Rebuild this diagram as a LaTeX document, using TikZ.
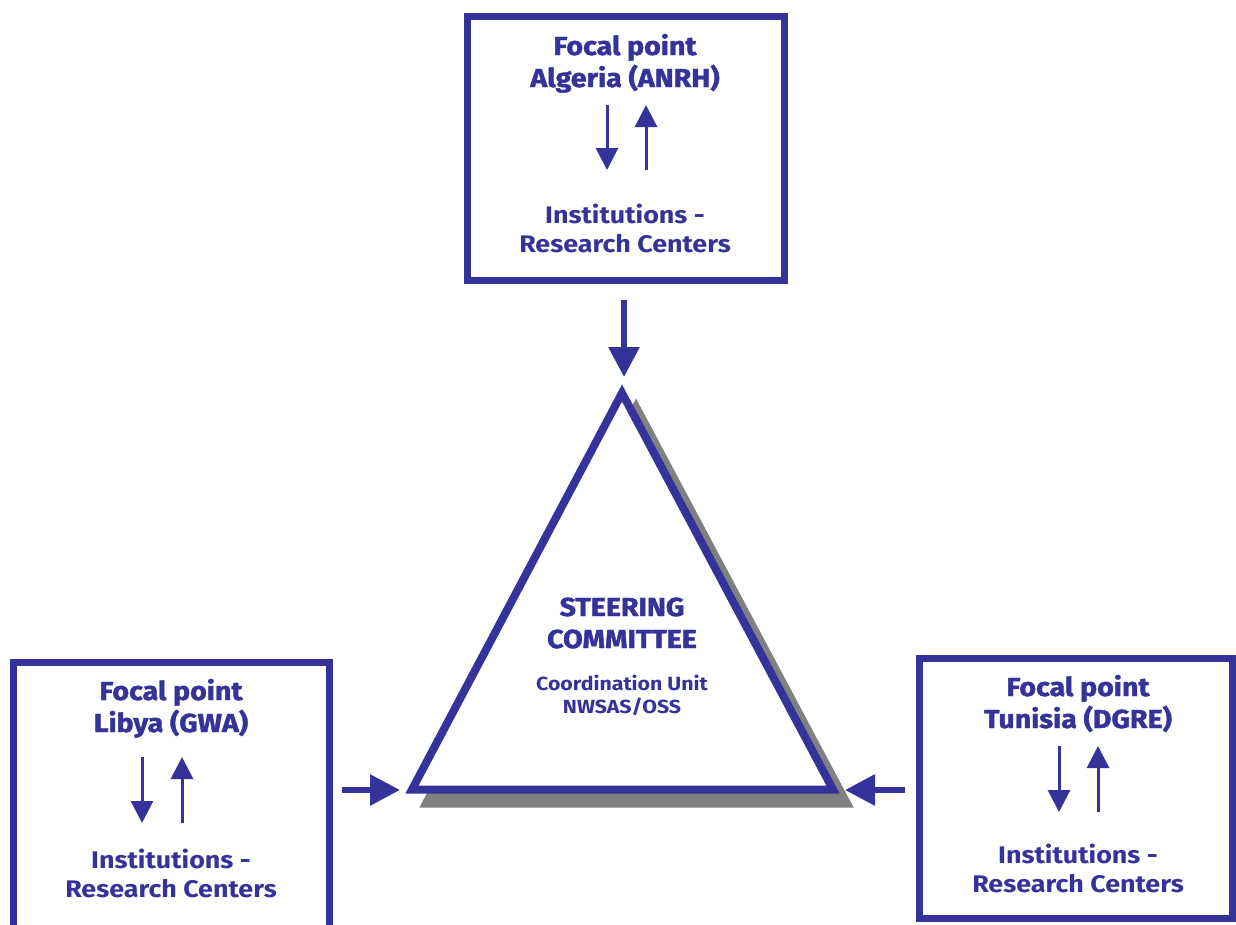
\documentclass[tikz,border=0pt]{standalone}
\usepackage{fontspec}
\setmainfont{Fira Sans}[FakeStretch=1.12]
\newfontfamily\heavyfont{Fira Sans}[FakeStretch=1.1, BoldFeatures={FakeBold=1.6}]
\usetikzlibrary{arrows.meta}
\definecolor{oss}{RGB}{51,51,153}
\definecolor{ossgrey}{RGB}{128,128,128}
\newcommand{\framewidth}{7pt}
\newcommand{\trianglewidth}{8pt}
\tikzset{
  focal/.style={draw=oss, line width=\framewidth, minimum width=317pt, minimum height=264pt},
  head/.style={text=oss, align=center, anchor=base, font=\heavyfont\bfseries\fontsize{26}{32}\selectfont},
  inst/.style={text=oss, align=center, anchor=base, font=\bfseries\fontsize{24}{29}\selectfont},
  unit/.style={text=oss, align=center, anchor=base, font=\bfseries\fontsize{19}{23}\selectfont},
  bigarrow/.style={draw=oss, line width=6pt, -{Triangle[width=30pt,length=30pt]}},
  smallarrow/.style={draw=oss, line width=3pt, -{Triangle[width=22pt,length=22pt]}}
}

\begin{document}
\begin{tikzpicture}[x=1pt,y=-1pt]
\useasboundingbox (0,0) rectangle (1236,924);
%boxes
\node[focal] (algbox) at (625.5,148) {};
\node[focal, minimum width=316pt, minimum height=276pt] (lybbox) at (171,800) {};
\node[focal, minimum width=313pt, minimum height=260pt] (tunbox) at (1075.5,788) {};
%texts
\node[head] (alg) at (625,87) {Focal point\\Algeria (ANRH)};
\node[inst] (algi) at (625,252) {Institutions -\\Research Centers};
\node[head] (lyb) at (171,732) {Focal point\\Libya (GWA)};
\node[inst] (lybi) at (171,897) {Institutions -\\Research Centers};
\node[head] (tun) at (1078,728) {Focal point\\Tunisia (DGRE)};
\node[inst] (tuni) at (1078,892) {Institutions -\\Research Centers};
%triangle
\coordinate (apex) at (622,393);
\coordinate (tl) at (412,789.5);
\coordinate (tr) at (833,789.5);
\filldraw[ossgrey, line width=\trianglewidth, line join=miter] ([shift={(14,14)}]apex) -- ([shift={(14,14)}]tl) -- ([shift={(14,14)}]tr) -- cycle;
\filldraw[fill=white, draw=oss, line width=\trianglewidth, line join=miter] (apex) -- (tl) -- (tr) -- cycle;
\node[head] (steer) at (622,648) {STEERING\\COMMITTEE};
\node[unit] (unit) at (622,713) {Coordination Unit\\NWSAS/OSS};
%arrows to the committee
\coordinate (algout) at (624,300);
\coordinate (lybout) at (342,790);
\coordinate (tunout) at (905,790);
\draw[bigarrow, shorten >=16pt] (algout) -- (algout |- apex);
\draw[bigarrow, shorten >=12pt] (lybout) -- (lybout -| tl);
\draw[bigarrow, shorten >=12pt] (tunout) -- (tunout -| tr);
%arrows in the boxes
\coordinate (alga) at (607,105);
\coordinate (algb) at (607,170);
\coordinate (algc) at (646,170);
\coordinate (algd) at (646,105);
\draw[smallarrow] (alga) -- (algb);
\draw[smallarrow] (algc) -- (algd);
\coordinate (lyba) at (142,757);
\coordinate (lybb) at (142,823);
\coordinate (lybc) at (182,823);
\coordinate (lybd) at (182,757);
\draw[smallarrow] (lyba) -- (lybb);
\draw[smallarrow] (lybc) -- (lybd);
\coordinate (tuna) at (1059,746);
\coordinate (tunb) at (1059,812);
\coordinate (tunc) at (1098,812);
\coordinate (tund) at (1098,746);
\draw[smallarrow] (tuna) -- (tunb);
\draw[smallarrow] (tunc) -- (tund);
\end{tikzpicture}
\end{document}
